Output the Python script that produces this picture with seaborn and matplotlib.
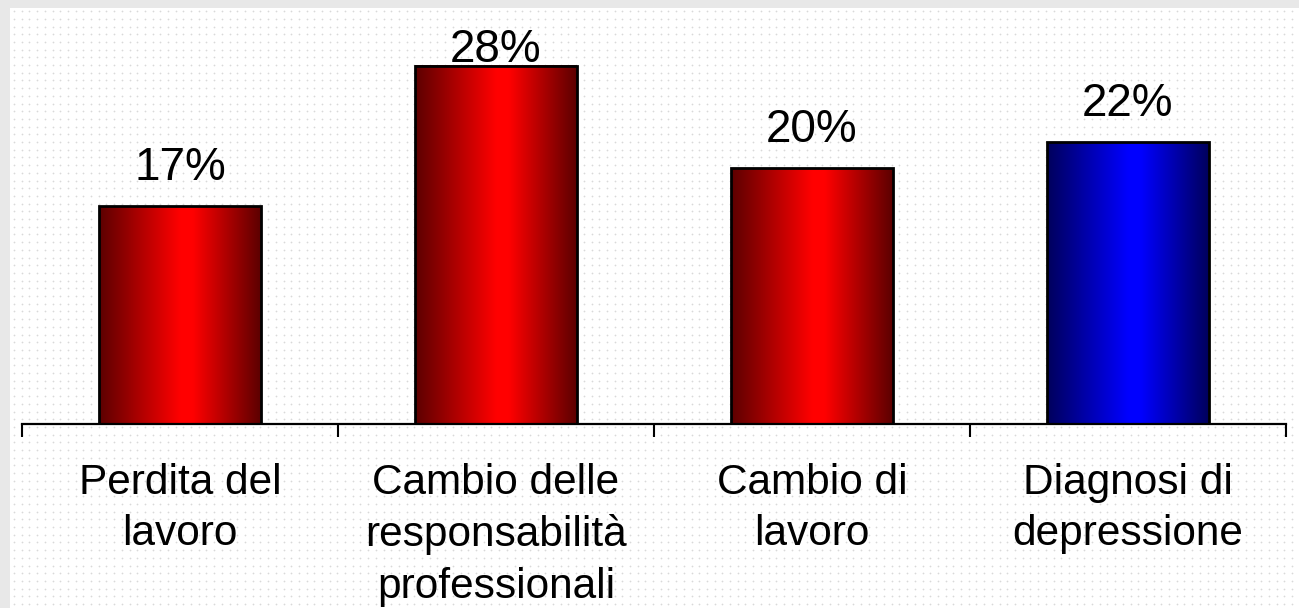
import numpy as np
import pandas as pd
import seaborn as sns
import matplotlib.pyplot as plt
from matplotlib.colors import LinearSegmentedColormap

categorie = ["Perdita del\nlavoro",
             "Cambio delle\nresponsabilità\nprofessionali",
             "Cambio di\nlavoro",
             "Diagnosi di\ndepressione"]
valori = [17, 28, 20, 22]
etichette = ["17%", "28%", "20%", "22%"]
colori_chiari = ["#ff0000", "#ff0000", "#ff0000", "#0000ff"]
colori_scuri = ["#5c0000", "#5c0000", "#5c0000", "#00005c"]

df = pd.DataFrame({"categoria": categorie, "valore": valori})

sns.set_style("white")
plt.rcParams['font.family'] = ['Liberation Sans', 'DejaVu Sans']
plt.rcParams['text.color'] = 'black'
plt.rcParams['xtick.color'] = 'black'

W, H = 1299, 608
fig = plt.figure(figsize=(W / 100, H / 100), dpi=100, facecolor="#e8e8e8")

# sfondo bianco con puntini
bg = fig.add_axes([10 / W, 0, 1 - 10 / W, 600 / H])
bg.set_facecolor("white")
gx, gy = np.meshgrid(np.arange(4, W, 7.7), np.arange(4, H, 7.7))
bg.scatter(gx.ravel(), gy.ravel(), s=1.6, color="#d9d9d9", linewidths=0)
bg.set_xlim(0, W - 10)
bg.set_ylim(0, 600)
bg.set_xticks([])
bg.set_yticks([])
for s in bg.spines.values():
    s.set_visible(False)

ax = fig.add_axes([22 / W, 184 / H, 1264 / W, 416 / H])
ax.patch.set_alpha(0)

sns.barplot(data=df, x="categoria", y="valore", ax=ax, width=0.51,
            facecolor="none", edgecolor="black", linewidth=2, zorder=3)

# riempimento sfumato delle barre
for i, p in enumerate(ax.patches):
    x0, y0 = p.get_x(), p.get_y()
    w, h = p.get_width(), p.get_height()
    cmap = LinearSegmentedColormap.from_list(
        "g", [(0, colori_scuri[i]), (0.5, colori_chiari[i]),
              (0.58, colori_chiari[i]), (1, colori_scuri[i])])
    grad = np.linspace(0, 1, 256).reshape(1, -1)
    ax.imshow(grad, cmap=cmap, extent=[x0, x0 + w, y0, y0 + h],
              aspect="auto", interpolation="bilinear", zorder=2)
    # etichetta sopra la barra, ma non oltre il bordo in alto
    y_lab = min(y0 + h + 2.03, 28.3)
    ax.text(x0 + w / 2, y_lab, etichette[i], ha="center", va="baseline",
            fontsize=33, color="black")

ax.set_xlim(-0.5, 3.5)
ax.set_ylim(0, 32.5)

for s in ["top", "right", "left"]:
    ax.spines[s].set_visible(False)
ax.spines["bottom"].set_linewidth(1.6)
ax.spines["bottom"].set_color("black")
ax.spines["bottom"].set_zorder(4)

ax.set_yticks([])
ax.set_xticks(range(4))
ax.set_xticklabels(categorie, fontsize=30.5, linespacing=1.36, color="black")
ax.set_xticks(np.arange(-0.5, 4, 1), minor=True)
ax.tick_params(axis="x", which="major", length=0, pad=28)
ax.tick_params(axis="x", which="minor", length=9.5, width=1.5,
               direction="out", color="black", bottom=True)
ax.set_xlabel("")
ax.set_ylabel("")

fig.savefig("out.png", dpi=100, facecolor=fig.get_facecolor())
